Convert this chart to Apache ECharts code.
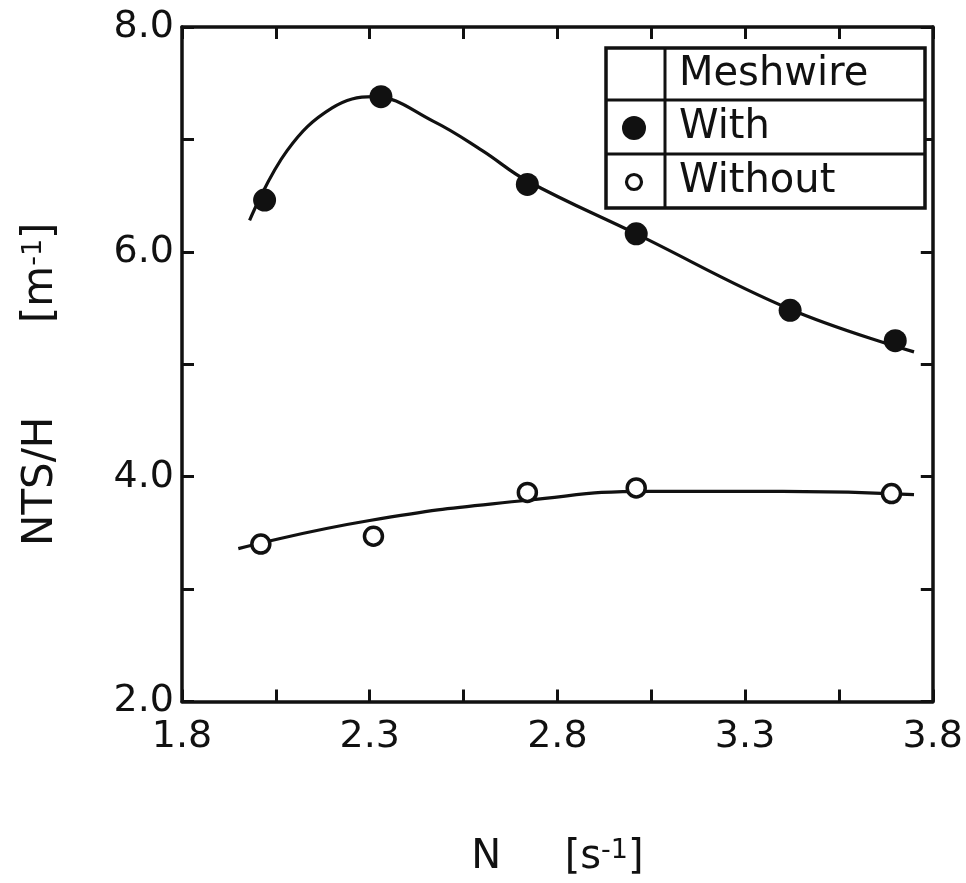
<!DOCTYPE html>
<html>
<head>
<meta charset="utf-8">
<script src="https://cdn.jsdelivr.net/npm/echarts@6/dist/echarts.min.js"></script>
<style>
html,body{margin:0;padding:0;background:#fff;}
#chart{width:966px;height:883px;}
</style>
</head>
<body>
<div id="chart"></div>
<script>
// Measured points
const withN = [2.02, 2.33, 2.72, 3.01, 3.42, 3.70];
const withNTS = [6.46, 7.38, 6.60, 6.16, 5.48, 5.21];
const withoutN = [2.01, 2.31, 2.72, 3.01, 3.69];
const withoutNTS = [3.40, 3.47, 3.86, 3.90, 3.85];
// Hand-drawn fitted curves
const withCurveN = [1.98, 2.08, 2.20, 2.31, 2.47, 2.60, 2.72, 3.01, 3.42, 3.75];
const withCurveNTS = [6.28, 6.90, 7.28, 7.38, 7.16, 6.90, 6.63, 6.16, 5.49, 5.11];
const withoutCurveN = [1.95, 2.30, 2.72, 3.05, 3.40, 3.75];
const withoutCurveNTS = [3.36, 3.61, 3.79, 3.87, 3.87, 3.84];
// Axis settings
const xMin = 1.8, xMax = 3.8, xStep = 0.25;
const yMin = 2.0, yMax = 8.0, yStep = 1.0;
const legendTitle = 'Meshwire';
const seriesNames = ['With', 'Without'];
const xName = 'N     [s{sup|-1}]';
const yName = 'NTS/H       [m{sup|-1}]   ';

const pair = (a, b) => a.map((v, i) => [v, b[i]]);
const FONT = 'DejaVu Sans';
const INK = '#111';

const chart = echarts.init(document.getElementById('chart'), null, {renderer: 'canvas'});

const axisCommon = {
  axisLine: {show: true, lineStyle: {color: INK, width: 3.5}},
  axisTick: {show: true, inside: true, length: 12, lineStyle: {color: INK, width: 3}},
  splitLine: {show: false}
};
const supRich = {sup: {fontFamily: FONT, fontSize: 27, color: INK, verticalAlign: 'top', padding: [0, 0, 14, 0]}};

const option = {
  backgroundColor: '#fff',
  animation: false,
  grid: {left: 182, right: 26, top: 27, bottom: 176, containLabel: false},
  xAxis: [
    Object.assign({
      type: 'value', min: xMin, max: xMax, interval: xStep, position: 'bottom',
      name: xName, nameLocation: 'middle', nameGap: 136,
      nameTextStyle: {fontFamily: FONT, fontSize: 40, color: INK, rich: supRich},
      axisLabel: {
        show: true, margin: 17, fontFamily: FONT, fontSize: 38, color: INK,
        showMinLabel: true, showMaxLabel: true,
        formatter: v => (Math.round((v - xMin) / xStep) % 2 === 0 ? v.toFixed(1) : '')
      }
    }, axisCommon),
    Object.assign({
      type: 'value', min: xMin, max: xMax, interval: xStep, position: 'top',
      axisLabel: {show: false}
    }, axisCommon)
  ],
  yAxis: [
    Object.assign({
      type: 'value', min: yMin, max: yMax, interval: yStep, position: 'left',
      name: yName, nameLocation: 'middle', nameGap: 120, nameRotate: 90,
      nameTextStyle: {fontFamily: FONT, fontSize: 42, color: INK, rich: supRich},
      axisLabel: {
        show: true, margin: 8, fontFamily: FONT, fontSize: 38, color: INK,
        showMinLabel: true, showMaxLabel: true,
        formatter: v => (Math.round(v - yMin) % 2 === 0 ? v.toFixed(1) : '')
      }
    }, axisCommon),
    Object.assign({
      type: 'value', min: yMin, max: yMax, interval: yStep, position: 'right',
      axisLabel: {show: false}
    }, axisCommon)
  ],
  series: [
    {
      name: seriesNames[0] + ' curve', type: 'line', data: pair(withCurveN, withCurveNTS),
      smooth: 0.4, showSymbol: false, lineStyle: {color: INK, width: 3.2}, z: 2
    },
    {
      name: seriesNames[1] + ' curve', type: 'line', data: pair(withoutCurveN, withoutCurveNTS),
      smooth: 0.5, showSymbol: false, lineStyle: {color: INK, width: 3.2}, z: 2
    },
    {
      name: seriesNames[0], type: 'scatter', data: pair(withN, withNTS),
      symbol: 'circle', symbolSize: 23, itemStyle: {color: INK, opacity: 1}, z: 3
    },
    {
      name: seriesNames[1], type: 'scatter', data: pair(withoutN, withoutNTS),
      symbol: 'circle', symbolSize: 18, itemStyle: {color: '#fff', borderColor: INK, borderWidth: 3.5, opacity: 1}, z: 3
    }
  ],
  graphic: [
    {type: 'rect', shape: {x: 606, y: 48, width: 319, height: 160}, style: {fill: '#fff', stroke: INK, lineWidth: 3.5}, z: 10},
    {type: 'line', shape: {x1: 606, y1: 100, x2: 925, y2: 100}, style: {stroke: INK, lineWidth: 3}, z: 11},
    {type: 'line', shape: {x1: 606, y1: 154, x2: 925, y2: 154}, style: {stroke: INK, lineWidth: 3}, z: 11},
    {type: 'line', shape: {x1: 665, y1: 48, x2: 665, y2: 208}, style: {stroke: INK, lineWidth: 3}, z: 11},
    {type: 'text', x: 679, y: 75, style: {text: legendTitle, font: '40px "DejaVu Sans"', fill: INK, verticalAlign: 'middle'}, z: 12},
    {type: 'text', x: 679, y: 128, style: {text: seriesNames[0], font: '40px "DejaVu Sans"', fill: INK, verticalAlign: 'middle'}, z: 12},
    {type: 'text', x: 679, y: 182, style: {text: seriesNames[1], font: '40px "DejaVu Sans"', fill: INK, verticalAlign: 'middle'}, z: 12},
    {type: 'circle', shape: {cx: 634, cy: 128, r: 12}, style: {fill: INK}, z: 12},
    {type: 'circle', shape: {cx: 634, cy: 182, r: 7.5}, style: {fill: '#fff', stroke: INK, lineWidth: 3.2}, z: 12}
  ]
};
chart.setOption(option);
</script>
</body>
</html>
